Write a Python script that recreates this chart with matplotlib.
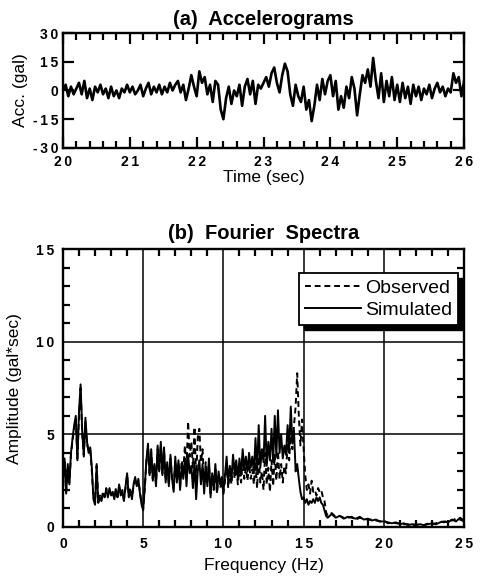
import numpy as np
import matplotlib
matplotlib.use("Agg")
import matplotlib.pyplot as plt
from matplotlib.ticker import MultipleLocator
from matplotlib.patches import Rectangle

plt.rcParams['font.family'] = ['Liberation Sans', 'DejaVu Sans']

# ---------------- data: accelerogram (time step 0.04 s, 20..26 s) ----------------
time = np.round(np.arange(20.0, 26.0001, 0.04), 2)
acc_20 = [0, 3, -3, 2, -2, 1, 4, -2, 5, -4, 1, -5, 2, -1, 3, -2, 1, -4, 2, -3, 0, -4, 1, -1, 3]
acc_21 = [-1, 2, -2, 0, 3, -3, 1, 4, -2, 2, -1, 3, -2, 2, -1, 4, 0, 3, 5, -1, 3, -5, 1, 8, 2]
acc_22 = [-3, 10, 4, 7, -2, 3, -6, 5, 3, -10, -15, -4, 2, -7, 0, -3, 3, -8, 2, 6, -2, 5, -7, 3, 1]
acc_23 = [4, 7, 2, 9, 12, 4, -1, 8, 14, 10, -2, -8, 3, -3, -6, 2, -10, -5, -16, -8, 3, -5, 6, -2, 5]
acc_24 = [8, -3, 5, -10, -3, -9, 2, -4, 7, 1, -13, -2, 8, 4, 11, 2, 17, 5, -4, 9, -6, 5, -3, 7, -5]
acc_25 = [3, -6, 4, -4, 2, -7, 3, -3, 2, -5, 1, -2, 3, -4, 1, 4, -1, 2, -3, 1, -1, 9, 4, 7, -3, 5]
acc = acc_20 + acc_21 + acc_22 + acc_23 + acc_24 + acc_25

# ---------------- data: Fourier spectra ----------------
freq = np.concatenate([np.round(np.arange(0.0, 16.5001, 0.1), 2),
                       np.round(np.arange(16.75, 25.0001, 0.25), 2)])

simulated = [
    2.6, 3.7, 1.8, 3.4, 2.3, 4.0, 4.8, 5.5, 6.0, 3.6,
    6.2, 7.7, 5.2, 3.8, 5.9, 4.6, 4.0, 4.3, 3.2, 1.5,
    1.2, 3.4, 1.3, 1.6, 1.4, 1.8, 1.7, 2.0, 1.6, 2.1,
    1.7, 1.9, 1.5, 2.0, 1.6, 2.3, 1.7, 1.9, 1.4, 2.2,
    2.9, 1.6, 2.0, 1.5, 2.3, 2.7, 2.2, 2.6, 1.8, 1.2,
    0.9, 2.2, 3.6, 4.5, 2.8, 4.2, 2.5, 3.4, 2.2, 4.4,
    3.0, 4.6, 2.8, 4.3, 2.4, 3.5, 2.2, 3.9, 2.6, 1.9,
    3.8, 2.4, 3.6, 2.0, 3.3, 2.6, 3.7, 2.2, 3.9, 2.9,
    3.3, 2.1, 3.5, 1.5, 3.0, 3.6, 2.3, 3.4, 1.8, 3.2,
    2.2, 3.7, 1.6, 2.9, 2.1, 3.4, 1.9, 3.0, 2.3, 2.7,
    1.9, 2.8, 3.8, 2.4, 3.3, 2.5, 3.9, 3.0, 3.6, 2.6,
    3.7, 2.8, 4.2, 3.1, 3.8, 3.0, 4.0, 3.2, 3.8, 2.9,
    4.8, 3.0, 5.5, 3.2, 4.2, 3.5, 6.0, 3.3, 4.6, 3.6,
    5.3, 3.5, 6.0, 3.8, 6.3, 4.0, 5.0, 3.7, 4.4, 3.9,
    5.5, 4.2, 6.5, 4.5, 5.2, 3.0, 3.4, 2.6, 1.9, 1.5,
    1.6, 1.3, 1.5, 1.2, 1.4, 1.3, 1.5, 1.3, 1.6, 1.4,
    1.6, 1.3, 1.2, 0.9, 0.6, 0.5,
    0.7, 0.5, 0.6, 0.45, 0.55, 0.5, 0.45, 0.55, 0.4, 0.45,
    0.35, 0.4, 0.3, 0.3, 0.25, 0.2, 0.25, 0.15, 0.2, 0.1,
    0.15, 0.1, 0.15, 0.1, 0.15, 0.2, 0.15, 0.25, 0.3, 0.25,
    0.4, 0.3, 0.5, 0.35,
]

observed = [
    2.4, 3.5, 1.9, 3.3, 2.4, 3.9, 4.7, 5.3, 5.8, 3.7,
    6.0, 7.5, 5.0, 3.9, 5.7, 4.5, 4.1, 4.2, 3.0, 1.6,
    1.3, 3.3, 1.4, 1.7, 1.5, 1.9, 1.6, 2.1, 1.7, 2.0,
    1.8, 1.8, 1.6, 2.1, 1.5, 2.2, 1.8, 2.0, 1.5, 2.1,
    2.8, 1.7, 2.1, 1.6, 2.2, 2.6, 2.3, 2.5, 1.9, 1.3,
    1.0, 2.1, 3.5, 4.3, 2.9, 4.0, 2.6, 3.3, 2.3, 4.2,
    3.1, 4.4, 2.9, 4.1, 2.5, 3.4, 2.3, 3.7, 2.7, 2.0,
    3.6, 2.5, 3.5, 2.2, 3.6, 3.0, 4.4, 3.2, 5.7, 3.8,
    4.6, 3.2, 5.4, 2.6, 4.8, 5.3, 3.5, 4.2, 2.4, 3.5,
    2.4, 3.4, 1.7, 2.7, 2.0, 3.1, 1.8, 2.8, 2.1, 2.5,
    1.8, 2.5, 3.4, 2.1, 3.0, 2.3, 3.5, 2.6, 3.2, 2.3,
    3.3, 2.4, 3.6, 2.6, 3.2, 2.5, 3.4, 2.6, 3.1, 2.3,
    3.5, 2.1, 3.8, 2.4, 3.0, 2.0, 4.0, 2.3, 3.2, 1.9,
    3.6, 2.2, 3.9, 2.5, 4.1, 2.6, 3.4, 2.4, 3.3, 2.9,
    4.5, 3.6, 5.2, 4.2, 5.5, 6.5, 8.3, 6.0, 4.4, 5.8,
    4.2, 2.8, 2.0, 2.3, 1.8, 2.5, 1.9, 2.0, 1.7, 2.1,
    1.9, 2.0, 1.6, 1.4, 0.8, 0.6,
    0.75, 0.55, 0.6, 0.5, 0.5, 0.55, 0.4, 0.5, 0.45, 0.4,
    0.4, 0.35, 0.3, 0.35, 0.2, 0.25, 0.2, 0.2, 0.15, 0.15,
    0.1, 0.15, 0.1, 0.1, 0.2, 0.15, 0.2, 0.3, 0.25, 0.35,
    0.35, 0.45, 0.4, 0.3,
]

acc_yticks = [-30, -15, 0, 15, 30]
acc_xticks = [20, 21, 22, 23, 24, 25, 26]
spec_xticks = [0, 5, 10, 15, 20, 25]
spec_yticks = [0, 5, 10, 15]


def spaced(v):
    # wide letter spacing of the original tick numbers
    return '\u2009'.join(str(v))


# ---------------- figure ----------------
fig = plt.figure(figsize=(4.88, 5.8), dpi=100)

tick_font = dict(fontsize=10, fontweight='bold')
label_size = 12.5
title_size = 14.5

# (a) Accelerograms
ax1 = fig.add_axes([0.129, 0.745, 0.822, 0.198])
ax1.plot(time, acc, color='black', lw=1.9)
ax1.set_xlim(20, 26)
ax1.set_ylim(-30, 30)
ax1.set_xticks(acc_xticks)
ax1.set_yticks(acc_yticks)
ax1.xaxis.set_minor_locator(MultipleLocator(0.2))
ax1.tick_params(which='both', direction='in', top=True, right=True, width=1.6)
ax1.tick_params(which='major', length=8)
ax1.tick_params(which='minor', length=5)
ax1.set_xticklabels([spaced(t) for t in acc_xticks], **tick_font)
ax1.set_yticklabels([spaced(t) for t in acc_yticks], **tick_font)
ax1.tick_params(axis='x', pad=5)
ax1.set_xlabel('Time (sec)', fontsize=label_size, labelpad=1)
ax1.set_ylabel('Acc. (gal)', fontsize=label_size, labelpad=3)
ax1.set_title('(a)  Accelerograms', fontsize=title_size, fontweight='bold', pad=6)
for s in ax1.spines.values():
    s.set_linewidth(1.7)

# (b) Fourier spectra
ax2 = fig.add_axes([0.129, 0.0914, 0.822, 0.479])
ax2.plot(freq, observed, color='black', lw=1.4, ls=(0, (3, 2)), label='Observed')
ax2.plot(freq, simulated, color='black', lw=1.4, ls='-', label='Simulated')
ax2.set_xlim(0, 25)
ax2.set_ylim(0, 15)
ax2.set_xticks(spec_xticks)
ax2.set_yticks(spec_yticks)
ax2.xaxis.set_minor_locator(MultipleLocator(1))
ax2.yaxis.set_minor_locator(MultipleLocator(1))
ax2.tick_params(which='both', direction='in', top=True, right=True, width=1.6)
ax2.tick_params(which='major', length=0)
ax2.tick_params(which='minor', length=5)
ax2.set_xticklabels([spaced(t) for t in spec_xticks], **tick_font)
ax2.set_yticklabels([spaced(t) for t in spec_yticks], **tick_font)
ax2.tick_params(axis='x', pad=7)
ax2.tick_params(axis='y', pad=6)
ax2.grid(True, which='major', color='black', lw=1.1)
ax2.set_axisbelow(True)
ax2.set_xlabel('Frequency (Hz)', fontsize=label_size, labelpad=5)
ax2.set_ylabel('Amplitude (gal*sec)', fontsize=label_size, labelpad=10)
ax2.set_title('(b)  Fourier  Spectra', fontsize=title_size, fontweight='bold', pad=7)
for s in ax2.spines.values():
    s.set_linewidth(1.7)

leg = ax2.legend(loc='upper right', bbox_to_anchor=(0.985, 0.914), fontsize=14,
                 handlelength=2.9, handletextpad=0.2, fancybox=False,
                 framealpha=1, edgecolor='black', borderpad=0.3,
                 labelspacing=0.25, borderaxespad=0)
leg.get_frame().set_linewidth(1.3)
leg.set_zorder(10)

# heavy drop shadow behind the legend box
fig.canvas.draw()
bb = leg.get_window_extent()
shadow = Rectangle((bb.x0 + 5, bb.y0 - 5), bb.width, bb.height,
                   transform=None, facecolor='black', edgecolor='black',
                   zorder=9)
ax2.add_artist(shadow)

fig.savefig('out.png', dpi=100)
